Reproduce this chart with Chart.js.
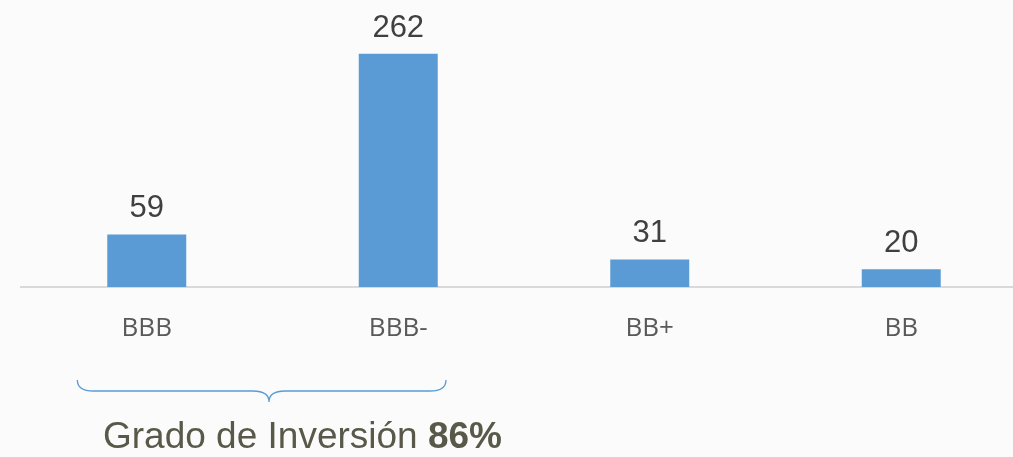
<!DOCTYPE html>
<html>
<head>
<meta charset="utf-8">
<script src="https://cdn.jsdelivr.net/npm/chart.js@4"></script>
<style>
  html, body { margin: 0; padding: 0; background: #fbfbfb; overflow: hidden; width: 1013px; height: 457px; }
  #wrap { position: absolute; left: 0; top: 0; width: 1040px; height: 457px; }
  #title { position: absolute; left: 103px; top: 418px; font-family: "Liberation Sans", Arial, sans-serif; font-size: 37px; line-height: 36px; color: #59594a; white-space: nowrap; }
  #title b { font-weight: bold; }
</style>
</head>
<body>
<div id="wrap"><canvas id="c" width="1040" height="457"></canvas></div>
<div id="title">Grado de Inversión <b>86%</b></div>
<script>
const categories = ["BBB", "BBB-", "BB+", "BB"];
const values = [59, 262, 31, 20];
const groupedCategories = ["BBB", "BBB-"];

const valueLabels = {
  id: "valueLabels",
  afterDatasetsDraw(chart) {
    const ctx = chart.ctx;
    const meta = chart.getDatasetMeta(0);
    ctx.save();
    ctx.font = '31px "Liberation Sans", Arial, sans-serif';
    ctx.fillStyle = "#404040";
    ctx.textAlign = "center";
    ctx.textBaseline = "alphabetic";
    meta.data.forEach((bar, i) => {
      ctx.fillText(String(values[i]), bar.x, bar.y - 17);
    });
    ctx.restore();
  }
};

const brace = {
  id: "brace",
  afterDraw(chart) {
    const x = chart.scales.x;
    const i0 = categories.indexOf(groupedCategories[0]);
    const i1 = categories.indexOf(groupedCategories[groupedCategories.length - 1]);
    const cw = x.getPixelForValue(1) - x.getPixelForValue(0);
    const left = x.getPixelForValue(i0) - cw * 0.276;
    const right = x.getPixelForValue(i1) + cw * 0.19;
    const ctx = chart.ctx;
    const cx = (x.getPixelForValue(i0) + x.getPixelForValue(i1)) / 2 - 3.5;
    const top = chart.chartArea.bottom + 93;
    const lineY = top + 11;
    const tip = top + 22;
    const r = 16;
    ctx.save();
    ctx.strokeStyle = "#5b9bd5";
    ctx.lineWidth = 1.3;
    ctx.beginPath();
    ctx.moveTo(left, top);
    ctx.quadraticCurveTo(left, lineY, left + r, lineY);
    ctx.lineTo(cx - r, lineY);
    ctx.quadraticCurveTo(cx, lineY, cx, tip);
    ctx.quadraticCurveTo(cx, lineY, cx + r, lineY);
    ctx.lineTo(right - r, lineY);
    ctx.quadraticCurveTo(right, lineY, right, top);
    ctx.stroke();
    ctx.restore();
  }
};

new Chart(document.getElementById("c"), {
  type: "bar",
  data: {
    labels: categories,
    datasets: [{
      data: values,
      backgroundColor: "#5b9bd5",
      borderWidth: 0,
      barPercentage: 0.314,
      categoryPercentage: 1
    }]
  },
  options: {
    responsive: false,
    animation: false,
    events: [],
    layout: { padding: { left: 21, right: 13, top: 20, bottom: 0 } },
    plugins: { legend: { display: false }, tooltip: { enabled: false } },
    scales: {
      x: {
        grid: { display: false, drawTicks: false },
        border: { display: true, color: "#d9d9d9", width: 2 },
        ticks: { color: "#595959", font: { family: '"Open Sans", sans-serif', size: 26 }, padding: 26, maxRotation: 0 },
        afterFit(scale) { scale.height = 170; }
      },
      y: {
        display: false,
        min: 0,
        max: 300
      }
    }
  },
  plugins: [valueLabels, brace]
});
</script>
</body>
</html>
